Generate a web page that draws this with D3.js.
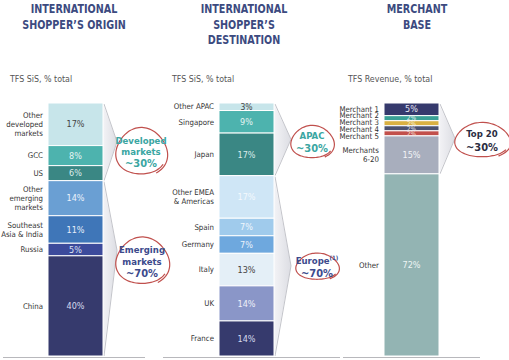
<!DOCTYPE html>
<html><head><meta charset="utf-8">
<script src="https://cdn.jsdelivr.net/npm/d3@7"></script>
<style>
html,body{margin:0;padding:0;background:#fff;}
svg{display:block;font-family:"DejaVu Sans Condensed","DejaVu Sans",sans-serif;}
</style></head>
<body><svg id="c" width="509" height="360"></svg>
<script>
// ---------- data ----------
const originCats = ["Other\ndeveloped\nmarkets","GCC","US","Other\nemerging\nmarkets","Southeast\nAsia & India","Russia","China"];
const originVals = [17,8,6,14,11,5,40];
const destCats = ["Other APAC","Singapore","Japan","Other EMEA\n& Americas","Spain","Germany","Italy","UK","France"];
const destVals = [3,9,17,17,7,7,13,14,14];
const merchCats = ["Merchant 1","Merchant 2","Merchant 3","Merchant 4","Merchant 5","Merchants\n6-20","Other"];
const merchVals = [5,2,2,2,2,15,72];

const titles = [["INTERNATIONAL","SHOPPER’S ORIGIN"],["INTERNATIONAL","SHOPPER’S","DESTINATION"],["MERCHANT","BASE"]];
const subtitles = ["TFS SiS, % total","TFS SiS, % total","TFS Revenue,  % total"];
// groups: [first index, last index exclusive, label lines]
const originGroups = [[0,3,["Developed","markets","~30%"]],[3,7,["Emerging","markets","~70%"]]];
const destGroups = [[0,3,["APAC","~30%"]],[3,9,["Europe","~70%"]]];
const merchGroups = [[0,6,["Top 20","~30%"]]];

// ---------- styles ----------
const originColors = ["#c7e5ea","#4db3ae","#3a8784","#6a9fd3","#3f76b8","#3c4a9b","#363a6d"];
const originText = ["#444","#e6f3f2","#dcecea","#eaf2fb","#e6eef8","#dde2f4","#d6daee"];
const destColors = ["#c7e5ea","#4db3ae","#3a8784","#cfe6f6","#a0cbec","#6ea8de","#e4eff7","#8a96c8","#363a6d"];
const destText = ["#444","#e6f3f2","#dcecea","#f4f9fd","#f0f7fd","#eaf2fb","#444","#eef0f8","#d6daee"];
const merchColors = ["#363a6d","#3aa096","#d9b042","#4b5170","#c2504b","#a8aebd","#93b4b3"];
const merchText = ["#e6e8f4","#e6f3f2","#fbf3dd","#e6e8f4","#f6e0de","#f2f3f6","#eef4f4"];
const groupTextColors = [["#3aa6a2","#3c4a8c"],["#3aa6a2","#3c4a8c"],["#2b2d42"]];

const panels = [
  {cats:originCats, vals:originVals, colors:originColors, text:originText, groups:originGroups,
   x0:48, titleX:74, subX:10, base:[3,145], apex:14, noteDy:[10,-7], noteDx:[24,25], rx:[25,26], ry:[23,23]},
  {cats:destCats, vals:destVals, colors:destColors, text:destText, groups:destGroups,
   x0:219, titleX:244, subX:172, base:[163,340], apex:17, noteDy:[3,1], noteDx:[21,26], rx:[21,21], ry:[16,13]},
  {cats:merchCats, vals:merchVals, colors:merchColors, text:merchText, groups:merchGroups,
   x0:384, titleX:417, subX:348, base:[343,480], apex:16, noteDy:[2], noteDx:[27], rx:[27], ry:[17]}
];
const barW = 55, barTop = 103, barBottom = 356;

const svg = d3.select("#c");
const defs = svg.append("defs");
const grad = defs.append("linearGradient").attr("id","chev").attr("x1","0").attr("x2","1").attr("y1","0").attr("y2","0");
grad.append("stop").attr("offset","0%").attr("stop-color","#f3f3f6");
grad.append("stop").attr("offset","100%").attr("stop-color","#dcdde3");

function scribble(cx, cy, rx, ry) {
  const pts = [];
  const t0 = 0.55, t1 = t0 + 2*Math.PI + 0.55;
  for (let t = t0; t <= t1; t += 0.12) {
    const k = (t - t0)/(t1 - t0);
    const s = 1 + 0.04*Math.sin(3*t) + 0.10*k*k*k;
    pts.push([cx + rx*s*Math.cos(-t), cy - ry*s*Math.sin(-t) ]);
  }
  return d3.line().curve(d3.curveBasis)(pts);
}
function squeeze(sel, f) {
  sel.each(function(){ const w = this.getComputedTextLength(); d3.select(this).attr("textLength", w*f).attr("lengthAdjust","spacingAndGlyphs"); });
}

panels.forEach((p, pi) => {
  const g = svg.append("g");
  const total = d3.sum(p.vals);
  const y = d3.scaleLinear().domain([0,total]).range([barTop,barBottom]);
  const cum = d3.cumsum([0].concat(p.vals));
  const x1 = p.x0 + barW;

  // title
  titles[pi].forEach((t,i) => {
    const tt = g.append("text").attr("x",p.titleX).attr("y",13+i*15.5).attr("text-anchor","middle")
      .attr("font-size",13).attr("font-weight","bold").attr("fill","#3c4a80").text(t);
    squeeze(tt, 0.82);
  });
  g.append("text").attr("x",p.subX).attr("y",82).attr("font-size",8.8).attr("fill","#555").text(subtitles[pi]);

  // chevrons
  p.groups.forEach((gr, gi) => {
    const ya = y(cum[gr[0]]), yb = y(cum[gr[1]]);
    const ym = (ya+yb)/2 + (pi===0 ? [0,-18][gi] : 0);
    const ax = x1 + p.apex;
    g.append("path").attr("d", `M${x1},${ya+1}L${ax},${ym}L${x1},${yb}Z`)
      .attr("fill","url(#chev)");
    g.append("path").attr("d", `M${x1+1},${ya+1}L${ax},${ym}L${x1+1},${yb}`)
      .attr("fill","none").attr("stroke","#c3c4ca").attr("stroke-width",1);
  });

  // baseline
  g.append("line").attr("x1",p.base[0]).attr("x2",p.base[1]).attr("y1",barBottom+1.5).attr("y2",barBottom+1.5)
    .attr("stroke","#b8b8bc").attr("stroke-width",1);

  // bars
  g.selectAll("rect.seg").data(p.vals).join("rect").attr("class","seg")
    .attr("x",p.x0).attr("width",barW)
    .attr("y",(d,i)=>y(cum[i])).attr("height",(d,i)=>y(cum[i+1])-y(cum[i]))
    .attr("fill",(d,i)=>p.colors[i]).attr("stroke","#fff").attr("stroke-width",1);

  // values
  g.selectAll("text.val").data(p.vals).join("text").attr("class","val")
    .attr("x",p.x0+barW/2).attr("y",(d,i)=>(y(cum[i])+y(cum[i+1]))/2)
    .attr("dy","0.35em").attr("text-anchor","middle")
    .attr("font-size",(d)=>d<=2?6.5:(d<=3?8.5:9)).attr("fill",(d,i)=>p.text[i]).text(d=>d+"%");

  // category labels with simple anti-overlap
  const mids = p.vals.map((d,i)=>(y(cum[i])+y(cum[i+1]))/2);
  const lh = 8.8;
  const half = p.cats.map(c => c.split("\n").length*lh/2);
  const pos = mids.slice();
  for (let iter=0; iter<50; iter++) {
    for (let i=1;i<pos.length;i++) {
      const minGap = half[i-1]+half[i]-2;
      if (pos[i]-pos[i-1] < minGap) {
        const push = (minGap-(pos[i]-pos[i-1]))/2;
        pos[i-1]-=push; pos[i]+=push;
      }
    }
  }
  p.cats.forEach((c,i) => {
    const lines = c.split("\n");
    const t = g.append("text").attr("x",p.x0-5).attr("text-anchor","end")
      .attr("font-size",7.8).attr("fill","#333");
    lines.forEach((l,j) => {
      t.append("tspan").attr("x",p.x0-5).attr("y",pos[i] + (j-(lines.length-1)/2)*lh).attr("dy","0.35em").text(l);
    });
  });

  // notes
  p.groups.forEach((gr, gi) => {
    const ya = y(cum[gr[0]]), yb = y(cum[gr[1]]);
    const cy = (ya+yb)/2 + p.noteDy[gi];
    const cx = x1 + p.apex + p.noteDx[gi];
    g.append("path").attr("d", scribble(cx, cy, p.rx[gi], p.ry[gi]))
      .attr("fill","none").attr("stroke","#c0504d").attr("stroke-width",1.2);
    const lines = gr[2];
    const col = groupTextColors[pi][gi];
    const n = lines.length;
    lines.forEach((l,j) => {
      const isPct = l.startsWith("~");
      const t = g.append("text").attr("x",cx).attr("text-anchor","middle")
        .attr("y", cy + (j-(n-1)/2)*(n>2?11.5:12.5)).attr("dy","0.35em")
        .attr("font-size", isPct?11:9.5).attr("font-weight","bold").attr("fill",col).text(l);
      if (l === "Europe") t.append("tspan").attr("font-size",6).attr("dy","-0.6em").text("(1)");
    });
  });
});
</script></body></html>
